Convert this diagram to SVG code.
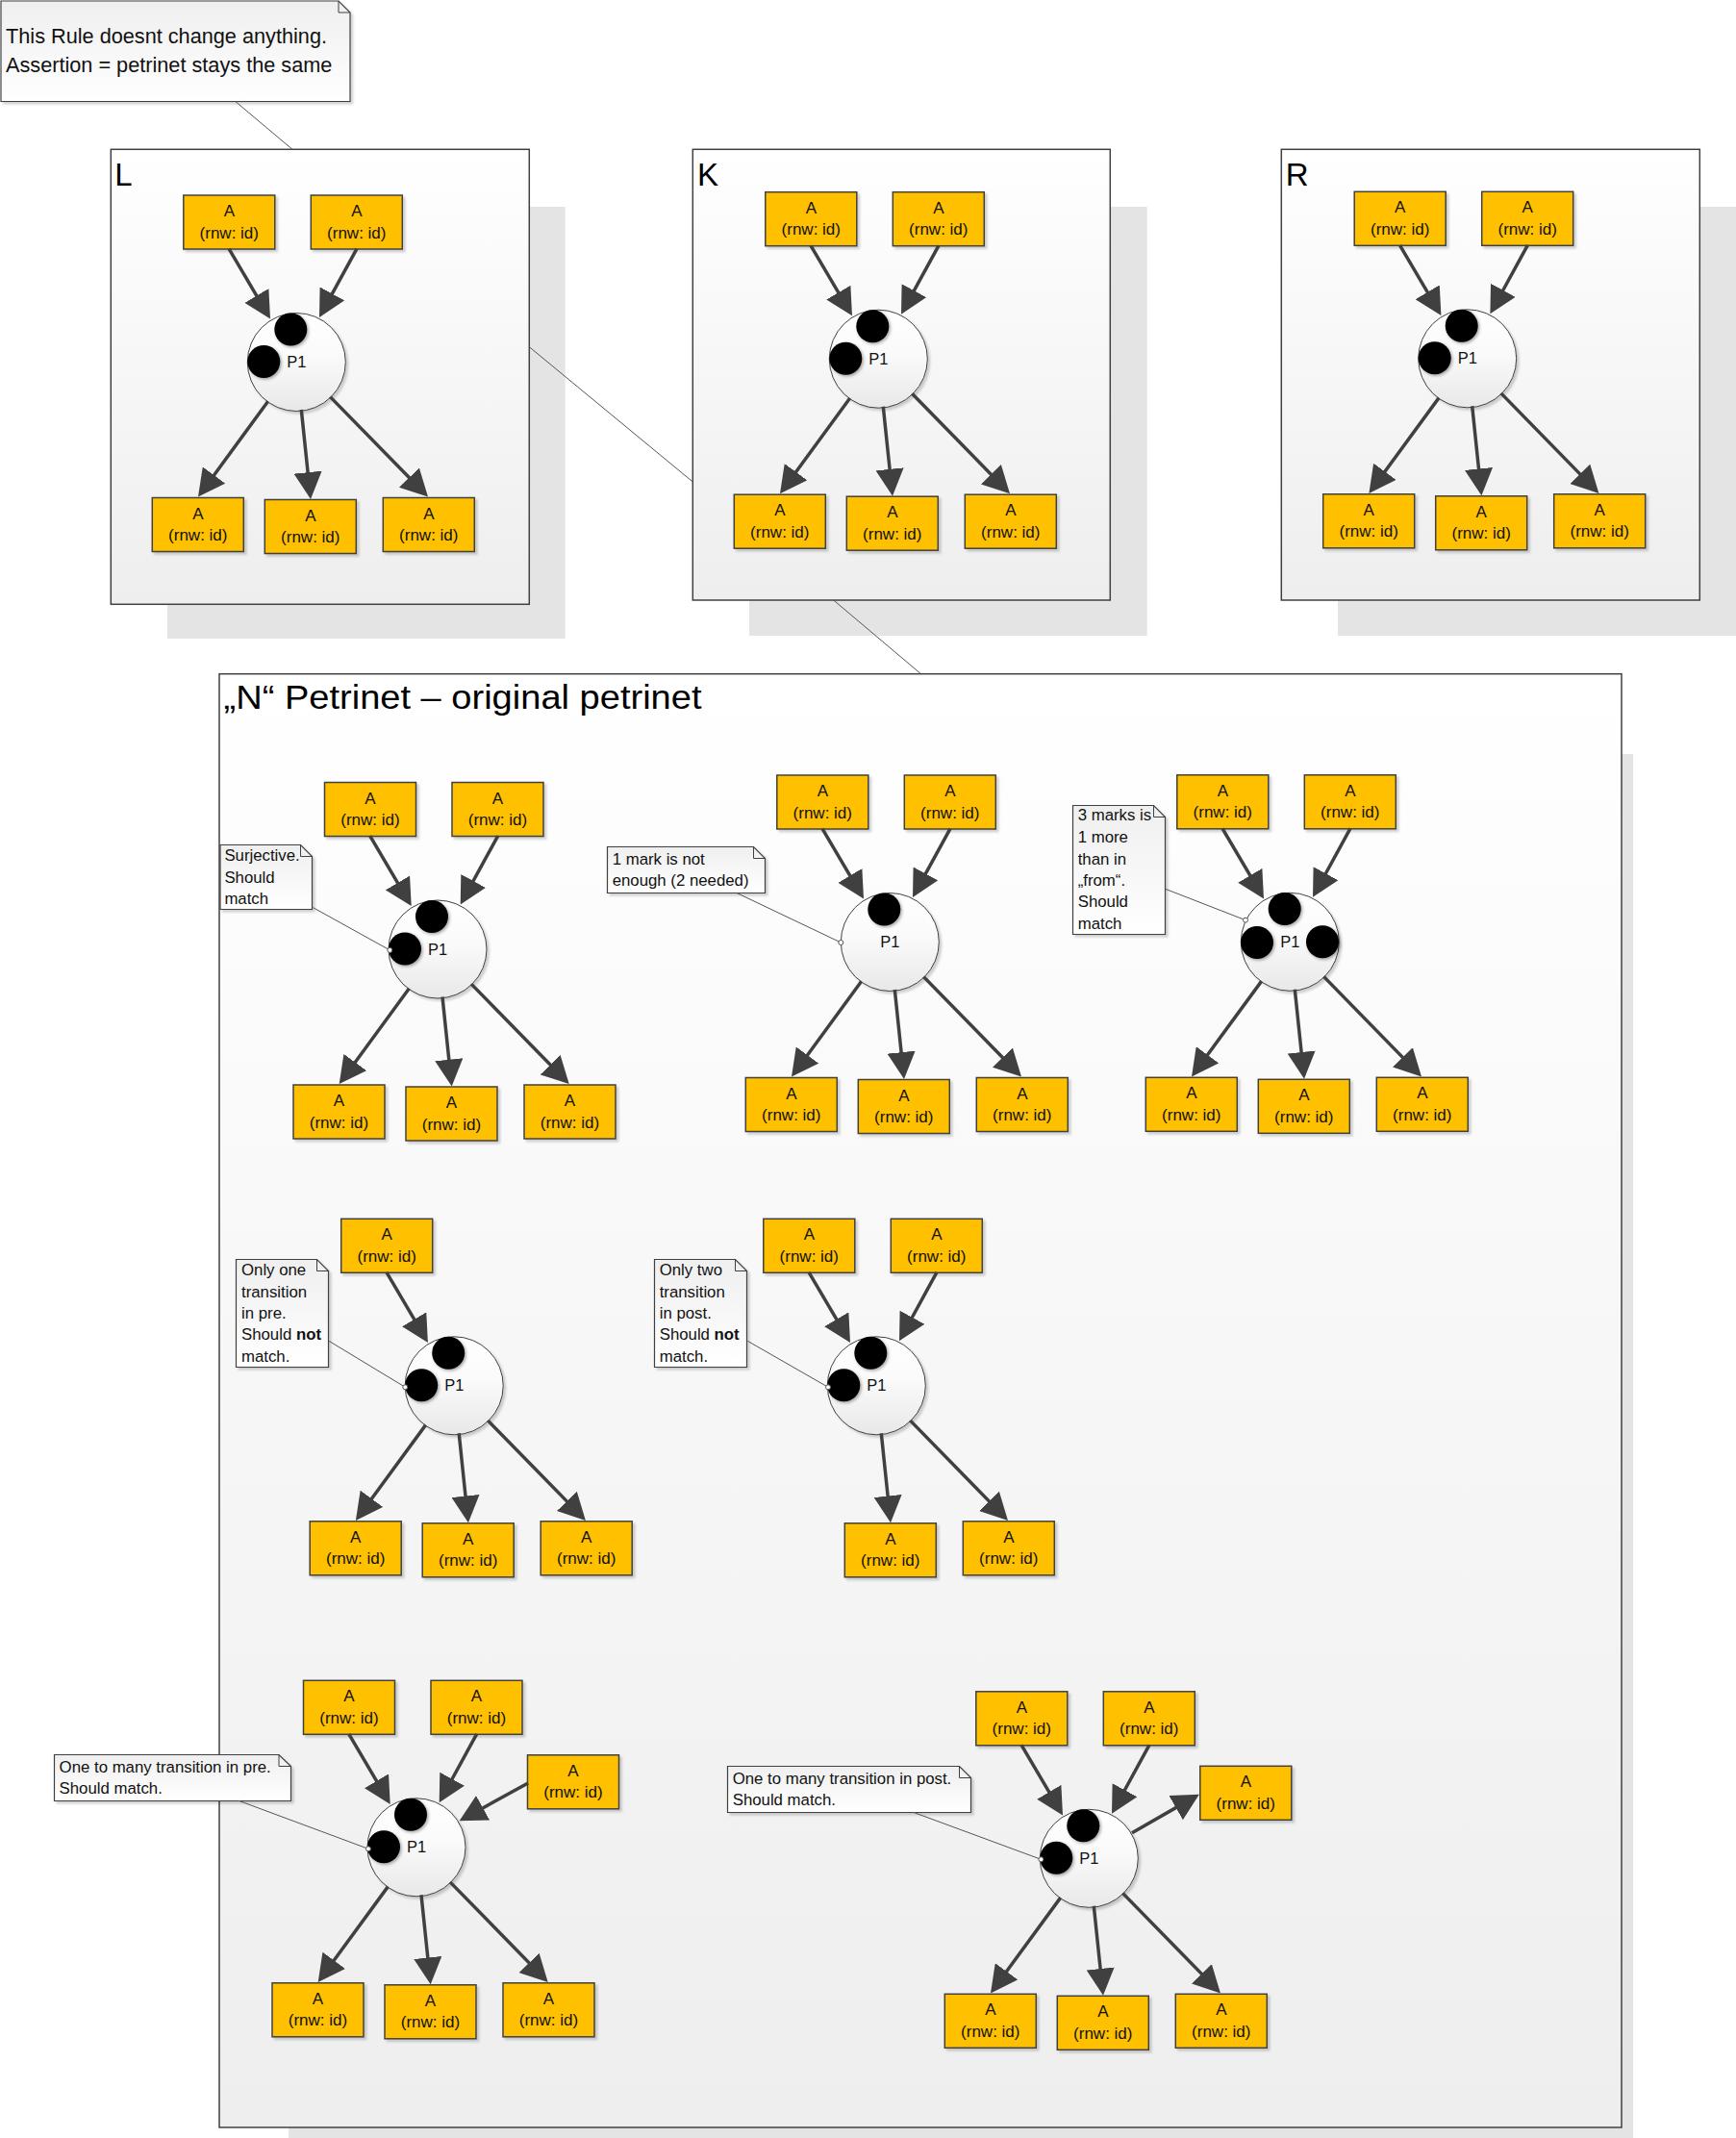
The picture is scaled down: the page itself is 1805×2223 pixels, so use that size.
<svg xmlns="http://www.w3.org/2000/svg" width="1805" height="2223" viewBox="0 0 1805 2223">
  <defs>
    <linearGradient id="gFrame" x1="0" y1="0" x2="0" y2="1">
      <stop offset="0" stop-color="#ffffff"/>
      <stop offset="1" stop-color="#eeeeee"/>
    </linearGradient>
    <linearGradient id="gPlace" x1="0" y1="0" x2="0" y2="1">
      <stop offset="0" stop-color="#ffffff"/>
      <stop offset="0.45" stop-color="#fafafa"/>
      <stop offset="1" stop-color="#e8e8e8"/>
    </linearGradient>
    <linearGradient id="gNote" x1="0" y1="0" x2="0" y2="1">
      <stop offset="0" stop-color="#efefef"/>
      <stop offset="1" stop-color="#ffffff"/>
    </linearGradient>
    <filter id="sh" x="-20%" y="-20%" width="150%" height="150%">
      <feDropShadow dx="2.5" dy="2.5" stdDeviation="1" flood-color="#000" flood-opacity="0.18"/>
    </filter>
    <filter id="tsh" x="-30%" y="-30%" width="170%" height="170%">
      <feDropShadow dx="1.5" dy="1.5" stdDeviation="1.5" flood-color="#000" flood-opacity="0.35"/>
    </filter>
    <marker id="head" viewBox="0 0 28 29.2" refX="8" refY="14.6" markerUnits="userSpaceOnUse" markerWidth="28" markerHeight="29.2" orient="auto">
      <path d="M0,0 L28,14.6 L0,29.2 Z" fill="#404040"/>
    </marker>
    <style>
      text { font-family: 'Liberation Sans', Arial, sans-serif; fill: #000; }
      .shadow { fill: #e4e4e4; }
      .frame { fill: url(#gFrame); stroke: #404040; stroke-width: 1.5; }
      .box { fill: #ffc000; stroke: #404040; stroke-width: 1.5; filter: url(#sh); }
      .place { fill: url(#gPlace); stroke: #404040; stroke-width: 1; filter: url(#sh); }
      .token { fill: #000; filter: url(#tsh); }
      .note { fill: url(#gNote); stroke: #404040; stroke-width: 1.2; filter: url(#sh); }
      .fold { fill: none; stroke: #404040; stroke-width: 1; }
      .arc { stroke: #404040; stroke-width: 3.5; fill: none; marker-end: url(#head); }
      .link { stroke: #555555; stroke-width: 1; fill: none; }
      .pin { fill: #ffffff; stroke: #555555; stroke-width: 1; }
      .bt { font-size: 17px; text-anchor: middle; fill: #111; }
      .pt { font-size: 16.5px; fill: #111; }
      .nt { font-size: 16.8px; fill: #111; }
      .lbl { font-size: 33px; }
      .ttl { font-size: 35px; }
      .big { font-size: 21.7px; fill: #111; }
    </style>
  </defs>

  <!-- rule panels: shadows and frames -->
  <g id="panels">
    <rect class="shadow" x="174" y="215" width="413.7" height="449"/>
    <rect class="shadow" x="779" y="215" width="413.7" height="446"/>
    <rect class="shadow" x="1391" y="215" width="414" height="446"/>
    <rect class="shadow" x="300" y="784" width="1398" height="1439"/>
    <g id="frame-L">
      <rect class="frame" x="115.3" y="155.3" width="435" height="473"/>
      <text class="lbl" x="119.3" y="193.3">L</text>
    </g>
    <g id="frame-K">
      <rect class="frame" x="720.3" y="155.3" width="434" height="468.7"/>
      <text class="lbl" x="725" y="192.7">K</text>
    </g>
    <g id="frame-R">
      <rect class="frame" x="1332.3" y="155.3" width="435" height="468.7"/>
      <text class="lbl" x="1336.7" y="192.7">R</text>
    </g>
    <g id="frame-N">
      <rect class="frame" x="228" y="700.7" width="1458" height="1511.3"/>
      <text class="ttl" x="232.5" y="737" textLength="497" lengthAdjust="spacingAndGlyphs">„N“ Petrinet – original petrinet</text>
    </g>
  </g>

  <!-- comment notes -->
  <g id="notes">
    <g id="note-rule">
      <path class="note" d="M1,1 H352 L364,13 V105.5 H1 Z"/>
      <path class="fold" d="M352,1 V13 H364"/>
      <text class="big" x="6" y="44.8">This Rule doesnt change anything.</text>
      <text class="big" x="6" y="74.6">Assertion = petrinet stays the same</text>
    </g>
    <g id="note-N1">
      <path class="note" d="M229,878.5 H312.5 L324.5,890.5 V945.5 H229 Z"/>
      <path class="fold" d="M312.5,878.5 V890.5 H324.5"/>
      <text class="nt" x="233.4" y="895.4">Surjective.</text>
      <text class="nt" x="233.4" y="917.5">Should</text>
      <text class="nt" x="233.4" y="939.6">match</text>
    </g>
    <g id="note-N2">
      <path class="note" d="M631.5,880.5 H783.5 L795.5,892.5 V928.5 H631.5 Z"/>
      <path class="fold" d="M783.5,880.5 V892.5 H795.5"/>
      <text class="nt" x="636.7" y="899">1 mark is not</text>
      <text class="nt" x="636.7" y="921">enough (2 needed)</text>
    </g>
    <g id="note-N3">
      <path class="note" d="M1115.5,837.5 H1199.5 L1211.5,849.5 V971.5 H1115.5 Z"/>
      <path class="fold" d="M1199.5,837.5 V849.5 H1211.5"/>
      <text class="nt" x="1120.7" y="853.3">3 marks is</text>
      <text class="nt" x="1120.7" y="876">1 more</text>
      <text class="nt" x="1120.7" y="898.7">than in</text>
      <text class="nt" x="1120.7" y="920.7">„from“.</text>
      <text class="nt" x="1120.7" y="943.3">Should</text>
      <text class="nt" x="1120.7" y="965.7">match</text>
    </g>
    <g id="note-N4">
      <path class="note" d="M245.5,1309.5 H329.5 L341.5,1321.5 V1421.5 H245.5 Z"/>
      <path class="fold" d="M329.5,1309.5 V1321.5 H341.5"/>
      <text class="nt" x="251" y="1326">Only one</text>
      <text class="nt" x="251" y="1348.7">transition</text>
      <text class="nt" x="251" y="1370.7">in pre.</text>
      <text class="nt" x="251" y="1393.3">Should <tspan font-weight="bold">not</tspan></text>
      <text class="nt" x="251" y="1415.7">match.</text>
    </g>
    <g id="note-N5">
      <path class="note" d="M680.5,1309.5 H764.5 L776.5,1321.5 V1421.5 H680.5 Z"/>
      <path class="fold" d="M764.5,1309.5 V1321.5 H776.5"/>
      <text class="nt" x="685.7" y="1326">Only two</text>
      <text class="nt" x="685.7" y="1348.7">transition</text>
      <text class="nt" x="685.7" y="1370.7">in post.</text>
      <text class="nt" x="685.7" y="1393.3">Should <tspan font-weight="bold">not</tspan></text>
      <text class="nt" x="685.7" y="1415.7">match.</text>
    </g>
    <g id="note-N6">
      <path class="note" d="M56.5,1824.5 H290 L302.5,1836.5 V1872.5 H56.5 Z"/>
      <path class="fold" d="M290,1824.5 V1836.5 H302.5"/>
      <text class="nt" x="61.6" y="1843.3">One to many transition in pre.</text>
      <text class="nt" x="61.6" y="1865">Should match.</text>
    </g>
    <g id="note-N7">
      <path class="note" d="M756.5,1836.5 H997.5 L1009.5,1848.5 V1884.5 H756.5 Z"/>
      <path class="fold" d="M997.5,1836.5 V1848.5 H1009.5"/>
      <text class="nt" x="761.7" y="1855">One to many transition in post.</text>
      <text class="nt" x="761.7" y="1876.7">Should match.</text>
    </g>
  </g>

  <!-- petri nets: each group is placed at the centre of its place P1 -->
  <g id="nodes">
    <g id="net-L" transform="translate(308.3,376.5)">
      <g id="L-p1"><circle class="place" r="51"/><circle class="token" cx="-6" cy="-34" r="17"/><circle class="token" cx="-34" cy="-0.5" r="17"/><text class="pt" x="-10" y="5.5">P1</text></g>
      <g id="L-t1"><rect class="box" x="-117.5" y="-173.5" width="95" height="56"/><text class="bt" x="-70" y="-151.5">A</text><text class="bt" x="-70" y="-129">(rnw: id)</text></g>
      <g id="L-t2"><rect class="box" x="15" y="-173.5" width="95" height="56"/><text class="bt" x="62.5" y="-151.5">A</text><text class="bt" x="62.5" y="-129">(rnw: id)</text></g>
      <g id="L-b1"><rect class="box" x="-150" y="141" width="95" height="56"/><text class="bt" x="-102.5" y="163">A</text><text class="bt" x="-102.5" y="185.5">(rnw: id)</text></g>
      <g id="L-b2"><rect class="box" x="-33" y="143" width="95" height="56"/><text class="bt" x="14.5" y="165">A</text><text class="bt" x="14.5" y="187.5">(rnw: id)</text></g>
      <g id="L-b3"><rect class="box" x="90" y="141" width="95" height="56"/><text class="bt" x="137.5" y="163">A</text><text class="bt" x="137.5" y="185.5">(rnw: id)</text></g>
    </g>
    <g id="net-K" transform="translate(913.3,373.2)">
      <g id="K-p1"><circle class="place" r="51"/><circle class="token" cx="-6" cy="-34" r="17"/><circle class="token" cx="-34" cy="-0.5" r="17"/><text class="pt" x="-10" y="5.5">P1</text></g>
      <g id="K-t1"><rect class="box" x="-117.5" y="-173.5" width="95" height="56"/><text class="bt" x="-70" y="-151.5">A</text><text class="bt" x="-70" y="-129">(rnw: id)</text></g>
      <g id="K-t2"><rect class="box" x="15" y="-173.5" width="95" height="56"/><text class="bt" x="62.5" y="-151.5">A</text><text class="bt" x="62.5" y="-129">(rnw: id)</text></g>
      <g id="K-b1"><rect class="box" x="-150" y="141" width="95" height="56"/><text class="bt" x="-102.5" y="163">A</text><text class="bt" x="-102.5" y="185.5">(rnw: id)</text></g>
      <g id="K-b2"><rect class="box" x="-33" y="143" width="95" height="56"/><text class="bt" x="14.5" y="165">A</text><text class="bt" x="14.5" y="187.5">(rnw: id)</text></g>
      <g id="K-b3"><rect class="box" x="90" y="141" width="95" height="56"/><text class="bt" x="137.5" y="163">A</text><text class="bt" x="137.5" y="185.5">(rnw: id)</text></g>
    </g>
    <g id="net-R" transform="translate(1525.7,372.8)">
      <g id="R-p1"><circle class="place" r="51"/><circle class="token" cx="-6" cy="-34" r="17"/><circle class="token" cx="-34" cy="-0.5" r="17"/><text class="pt" x="-10" y="5.5">P1</text></g>
      <g id="R-t1"><rect class="box" x="-117.5" y="-173.5" width="95" height="56"/><text class="bt" x="-70" y="-151.5">A</text><text class="bt" x="-70" y="-129">(rnw: id)</text></g>
      <g id="R-t2"><rect class="box" x="15" y="-173.5" width="95" height="56"/><text class="bt" x="62.5" y="-151.5">A</text><text class="bt" x="62.5" y="-129">(rnw: id)</text></g>
      <g id="R-b1"><rect class="box" x="-150" y="141" width="95" height="56"/><text class="bt" x="-102.5" y="163">A</text><text class="bt" x="-102.5" y="185.5">(rnw: id)</text></g>
      <g id="R-b2"><rect class="box" x="-33" y="143" width="95" height="56"/><text class="bt" x="14.5" y="165">A</text><text class="bt" x="14.5" y="187.5">(rnw: id)</text></g>
      <g id="R-b3"><rect class="box" x="90" y="141" width="95" height="56"/><text class="bt" x="137.5" y="163">A</text><text class="bt" x="137.5" y="185.5">(rnw: id)</text></g>
    </g>
    <g id="net-N1" transform="translate(455,987)">
      <g id="N1-p1"><circle class="place" r="51"/><circle class="token" cx="-6" cy="-34" r="17"/><circle class="token" cx="-34" cy="-0.5" r="17"/><text class="pt" x="-10" y="5.5">P1</text></g>
      <g id="N1-t1"><rect class="box" x="-117.5" y="-173.5" width="95" height="56"/><text class="bt" x="-70" y="-151.5">A</text><text class="bt" x="-70" y="-129">(rnw: id)</text></g>
      <g id="N1-t2"><rect class="box" x="15" y="-173.5" width="95" height="56"/><text class="bt" x="62.5" y="-151.5">A</text><text class="bt" x="62.5" y="-129">(rnw: id)</text></g>
      <g id="N1-b1"><rect class="box" x="-150" y="141" width="95" height="56"/><text class="bt" x="-102.5" y="163">A</text><text class="bt" x="-102.5" y="185.5">(rnw: id)</text></g>
      <g id="N1-b2"><rect class="box" x="-33" y="143" width="95" height="56"/><text class="bt" x="14.5" y="165">A</text><text class="bt" x="14.5" y="187.5">(rnw: id)</text></g>
      <g id="N1-b3"><rect class="box" x="90" y="141" width="95" height="56"/><text class="bt" x="137.5" y="163">A</text><text class="bt" x="137.5" y="185.5">(rnw: id)</text></g>
    </g>
    <g id="net-N2" transform="translate(925.3,979.5)">
      <g id="N2-p1"><circle class="place" r="51"/><circle class="token" cx="-6" cy="-34" r="17"/><text class="pt" x="-10" y="5.5">P1</text></g>
      <g id="N2-t1"><rect class="box" x="-117.5" y="-173.5" width="95" height="56"/><text class="bt" x="-70" y="-151.5">A</text><text class="bt" x="-70" y="-129">(rnw: id)</text></g>
      <g id="N2-t2"><rect class="box" x="15" y="-173.5" width="95" height="56"/><text class="bt" x="62.5" y="-151.5">A</text><text class="bt" x="62.5" y="-129">(rnw: id)</text></g>
      <g id="N2-b1"><rect class="box" x="-150" y="141" width="95" height="56"/><text class="bt" x="-102.5" y="163">A</text><text class="bt" x="-102.5" y="185.5">(rnw: id)</text></g>
      <g id="N2-b2"><rect class="box" x="-33" y="143" width="95" height="56"/><text class="bt" x="14.5" y="165">A</text><text class="bt" x="14.5" y="187.5">(rnw: id)</text></g>
      <g id="N2-b3"><rect class="box" x="90" y="141" width="95" height="56"/><text class="bt" x="137.5" y="163">A</text><text class="bt" x="137.5" y="185.5">(rnw: id)</text></g>
    </g>
    <g id="net-N3" transform="translate(1341.3,979.3)">
      <g id="N3-p1"><circle class="place" r="51"/><circle class="token" cx="-5.6" cy="-34.3" r="17"/><circle class="token" cx="-34.3" cy="0.7" r="17"/><circle class="token" cx="33.7" cy="0" r="17"/><text class="pt" x="-10" y="5.7">P1</text></g>
      <g id="N3-t1"><rect class="box" x="-117.5" y="-173.5" width="95" height="56"/><text class="bt" x="-70" y="-151.5">A</text><text class="bt" x="-70" y="-129">(rnw: id)</text></g>
      <g id="N3-t2"><rect class="box" x="15" y="-173.5" width="95" height="56"/><text class="bt" x="62.5" y="-151.5">A</text><text class="bt" x="62.5" y="-129">(rnw: id)</text></g>
      <g id="N3-b1"><rect class="box" x="-150" y="141" width="95" height="56"/><text class="bt" x="-102.5" y="163">A</text><text class="bt" x="-102.5" y="185.5">(rnw: id)</text></g>
      <g id="N3-b2"><rect class="box" x="-33" y="143" width="95" height="56"/><text class="bt" x="14.5" y="165">A</text><text class="bt" x="14.5" y="187.5">(rnw: id)</text></g>
      <g id="N3-b3"><rect class="box" x="90" y="141" width="95" height="56"/><text class="bt" x="137.5" y="163">A</text><text class="bt" x="137.5" y="185.5">(rnw: id)</text></g>
    </g>
    <g id="net-N4" transform="translate(472.2,1440.8)">
      <g id="N4-p1"><circle class="place" r="51"/><circle class="token" cx="-6" cy="-34" r="17"/><circle class="token" cx="-34" cy="-0.5" r="17"/><text class="pt" x="-10" y="5.5">P1</text></g>
      <g id="N4-t1"><rect class="box" x="-117.5" y="-173.5" width="95" height="56"/><text class="bt" x="-70" y="-151.5">A</text><text class="bt" x="-70" y="-129">(rnw: id)</text></g>
      <g id="N4-b1"><rect class="box" x="-150" y="141" width="95" height="56"/><text class="bt" x="-102.5" y="163">A</text><text class="bt" x="-102.5" y="185.5">(rnw: id)</text></g>
      <g id="N4-b2"><rect class="box" x="-33" y="143" width="95" height="56"/><text class="bt" x="14.5" y="165">A</text><text class="bt" x="14.5" y="187.5">(rnw: id)</text></g>
      <g id="N4-b3"><rect class="box" x="90" y="141" width="95" height="56"/><text class="bt" x="137.5" y="163">A</text><text class="bt" x="137.5" y="185.5">(rnw: id)</text></g>
    </g>
    <g id="net-N5" transform="translate(911.3,1440.8)">
      <g id="N5-p1"><circle class="place" r="51"/><circle class="token" cx="-6" cy="-34" r="17"/><circle class="token" cx="-34" cy="-0.5" r="17"/><text class="pt" x="-10" y="5.5">P1</text></g>
      <g id="N5-t1"><rect class="box" x="-117.5" y="-173.5" width="95" height="56"/><text class="bt" x="-70" y="-151.5">A</text><text class="bt" x="-70" y="-129">(rnw: id)</text></g>
      <g id="N5-t2"><rect class="box" x="15" y="-173.5" width="95" height="56"/><text class="bt" x="62.5" y="-151.5">A</text><text class="bt" x="62.5" y="-129">(rnw: id)</text></g>
      <g id="N5-b2"><rect class="box" x="-33" y="143" width="95" height="56"/><text class="bt" x="14.5" y="165">A</text><text class="bt" x="14.5" y="187.5">(rnw: id)</text></g>
      <g id="N5-b3"><rect class="box" x="90" y="141" width="95" height="56"/><text class="bt" x="137.5" y="163">A</text><text class="bt" x="137.5" y="185.5">(rnw: id)</text></g>
    </g>
    <g id="net-N6" transform="translate(433,1920.8)">
      <g id="N6-p1"><circle class="place" r="51"/><circle class="token" cx="-6" cy="-34" r="17"/><circle class="token" cx="-34" cy="-0.5" r="17"/><text class="pt" x="-10" y="5.5">P1</text></g>
      <g id="N6-t1"><rect class="box" x="-117.5" y="-173.5" width="95" height="56"/><text class="bt" x="-70" y="-151.5">A</text><text class="bt" x="-70" y="-129">(rnw: id)</text></g>
      <g id="N6-t2"><rect class="box" x="15" y="-173.5" width="95" height="56"/><text class="bt" x="62.5" y="-151.5">A</text><text class="bt" x="62.5" y="-129">(rnw: id)</text></g>
      <g id="N6-t3"><rect class="box" x="115.5" y="-96" width="95" height="56"/><text class="bt" x="163" y="-74">A</text><text class="bt" x="163" y="-51.5">(rnw: id)</text></g>
      <g id="N6-b1"><rect class="box" x="-150" y="141" width="95" height="56"/><text class="bt" x="-102.5" y="163">A</text><text class="bt" x="-102.5" y="185.5">(rnw: id)</text></g>
      <g id="N6-b2"><rect class="box" x="-33" y="143" width="95" height="56"/><text class="bt" x="14.5" y="165">A</text><text class="bt" x="14.5" y="187.5">(rnw: id)</text></g>
      <g id="N6-b3"><rect class="box" x="90" y="141" width="95" height="56"/><text class="bt" x="137.5" y="163">A</text><text class="bt" x="137.5" y="185.5">(rnw: id)</text></g>
    </g>
    <g id="net-N7" transform="translate(1132.3,1932.3)">
      <g id="N7-p1"><circle class="place" r="51"/><circle class="token" cx="-6" cy="-34" r="17"/><circle class="token" cx="-34" cy="-0.5" r="17"/><text class="pt" x="-10" y="5.5">P1</text></g>
      <g id="N7-t1"><rect class="box" x="-117.5" y="-173.5" width="95" height="56"/><text class="bt" x="-70" y="-151.5">A</text><text class="bt" x="-70" y="-129">(rnw: id)</text></g>
      <g id="N7-t2"><rect class="box" x="15" y="-173.5" width="95" height="56"/><text class="bt" x="62.5" y="-151.5">A</text><text class="bt" x="62.5" y="-129">(rnw: id)</text></g>
      <g id="N7-b4"><rect class="box" x="115.5" y="-96" width="95" height="56"/><text class="bt" x="163" y="-74">A</text><text class="bt" x="163" y="-51.5">(rnw: id)</text></g>
      <g id="N7-b1"><rect class="box" x="-150" y="141" width="95" height="56"/><text class="bt" x="-102.5" y="163">A</text><text class="bt" x="-102.5" y="185.5">(rnw: id)</text></g>
      <g id="N7-b2"><rect class="box" x="-33" y="143" width="95" height="56"/><text class="bt" x="14.5" y="165">A</text><text class="bt" x="14.5" y="187.5">(rnw: id)</text></g>
      <g id="N7-b3"><rect class="box" x="90" y="141" width="95" height="56"/><text class="bt" x="137.5" y="163">A</text><text class="bt" x="137.5" y="185.5">(rnw: id)</text></g>
    </g>
  </g>

  <!-- connectors: panel links, note anchors and arcs -->
  <g id="connectors">
    <line class="link" x1="245" y1="105.7" x2="304" y2="155.3"/>
    <line class="link" x1="550.3" y1="360.7" x2="720.3" y2="501"/>
    <line class="link" x1="866.7" y1="624" x2="957.5" y2="700.7"/>

    <line class="link" x1="325.4" y1="943.6" x2="405.3" y2="987.9"/><circle class="pin" cx="405.3" cy="987.9" r="2.5"/>
    <line class="link" x1="765.7" y1="928.3" x2="874.3" y2="980"/><circle class="pin" cx="874.3" cy="980" r="2.5"/>
    <line class="link" x1="1211.7" y1="924.3" x2="1295" y2="956.7"/><circle class="pin" cx="1295" cy="956.7" r="2.5"/>
    <line class="link" x1="342" y1="1394.3" x2="421.3" y2="1442.3"/><circle class="pin" cx="421.3" cy="1442.3" r="2.5"/>
    <line class="link" x1="777.3" y1="1394.3" x2="861" y2="1442.3"/><circle class="pin" cx="861" cy="1442.3" r="2.5"/>
    <line class="link" x1="248.2" y1="1872.3" x2="382.9" y2="1922.3"/><circle class="pin" cx="382.9" cy="1922.3" r="2.5"/>
    <line class="link" x1="949.6" y1="1884.3" x2="1082.4" y2="1933.3"/><circle class="pin" cx="1082.4" cy="1933.3" r="2.5"/>

    <g id="arcs-L" transform="translate(308.3,376.5)">
      <line class="arc" x1="-70.3" y1="-117.9" x2="-37.45" y2="-62.14"/>
      <line class="arc" x1="62.7" y1="-117.9" x2="33.29" y2="-64.05"/>
      <line class="arc" x1="-29.6" y1="40.8" x2="-90.49" y2="123.96"/>
      <line class="arc" x1="5" y1="49.5" x2="12.63" y2="122.61"/>
      <line class="arc" x1="35" y1="36.1" x2="122.72" y2="125.8"/>
    </g>
    <g id="arcs-K" transform="translate(913.3,373.2)">
      <line class="arc" x1="-70.3" y1="-117.9" x2="-37.45" y2="-62.14"/>
      <line class="arc" x1="62.7" y1="-117.9" x2="33.29" y2="-64.05"/>
      <line class="arc" x1="-29.6" y1="40.8" x2="-90.49" y2="123.96"/>
      <line class="arc" x1="5" y1="49.5" x2="12.63" y2="122.61"/>
      <line class="arc" x1="35" y1="36.1" x2="122.72" y2="125.8"/>
    </g>
    <g id="arcs-R" transform="translate(1525.7,372.8)">
      <line class="arc" x1="-70.3" y1="-117.9" x2="-37.45" y2="-62.14"/>
      <line class="arc" x1="62.7" y1="-117.9" x2="33.29" y2="-64.05"/>
      <line class="arc" x1="-29.6" y1="40.8" x2="-90.49" y2="123.96"/>
      <line class="arc" x1="5" y1="49.5" x2="12.63" y2="122.61"/>
      <line class="arc" x1="35" y1="36.1" x2="122.72" y2="125.8"/>
    </g>
    <g id="arcs-N1" transform="translate(455,987)">
      <line class="arc" x1="-70.3" y1="-117.9" x2="-37.45" y2="-62.14"/>
      <line class="arc" x1="62.7" y1="-117.9" x2="33.29" y2="-64.05"/>
      <line class="arc" x1="-29.6" y1="40.8" x2="-90.49" y2="123.96"/>
      <line class="arc" x1="5" y1="49.5" x2="12.63" y2="122.61"/>
      <line class="arc" x1="35" y1="36.1" x2="122.72" y2="125.8"/>
    </g>
    <g id="arcs-N2" transform="translate(925.3,979.5)">
      <line class="arc" x1="-70.3" y1="-117.9" x2="-37.45" y2="-62.14"/>
      <line class="arc" x1="62.7" y1="-117.9" x2="33.29" y2="-64.05"/>
      <line class="arc" x1="-29.6" y1="40.8" x2="-90.49" y2="123.96"/>
      <line class="arc" x1="5" y1="49.5" x2="12.63" y2="122.61"/>
      <line class="arc" x1="35" y1="36.1" x2="122.72" y2="125.8"/>
    </g>
    <g id="arcs-N3" transform="translate(1341.3,979.3)">
      <line class="arc" x1="-70.3" y1="-117.9" x2="-37.45" y2="-62.14"/>
      <line class="arc" x1="62.7" y1="-117.9" x2="33.29" y2="-64.05"/>
      <line class="arc" x1="-29.6" y1="40.8" x2="-90.49" y2="123.96"/>
      <line class="arc" x1="5" y1="49.5" x2="12.63" y2="122.61"/>
      <line class="arc" x1="35" y1="36.1" x2="122.72" y2="125.8"/>
    </g>
    <g id="arcs-N4" transform="translate(472.2,1440.8)">
      <line class="arc" x1="-70.3" y1="-117.9" x2="-37.45" y2="-62.14"/>
      <line class="arc" x1="-29.6" y1="40.8" x2="-90.49" y2="123.96"/>
      <line class="arc" x1="5" y1="49.5" x2="12.63" y2="122.61"/>
      <line class="arc" x1="35" y1="36.1" x2="122.72" y2="125.8"/>
    </g>
    <g id="arcs-N5" transform="translate(911.3,1440.8)">
      <line class="arc" x1="-70.3" y1="-117.9" x2="-37.45" y2="-62.14"/>
      <line class="arc" x1="62.7" y1="-117.9" x2="33.29" y2="-64.05"/>
      <line class="arc" x1="5" y1="49.5" x2="12.63" y2="122.61"/>
      <line class="arc" x1="35" y1="36.1" x2="122.72" y2="125.8"/>
    </g>
    <g id="arcs-N6" transform="translate(433,1920.8)">
      <line class="arc" x1="-70.3" y1="-117.9" x2="-37.45" y2="-62.14"/>
      <line class="arc" x1="62.7" y1="-117.9" x2="33.29" y2="-64.05"/>
      <line class="arc" x1="116" y1="-66.8" x2="62.12" y2="-37.14"/>
      <line class="arc" x1="-29.6" y1="40.8" x2="-90.49" y2="123.96"/>
      <line class="arc" x1="5" y1="49.5" x2="12.63" y2="122.61"/>
      <line class="arc" x1="35" y1="36.1" x2="122.72" y2="125.8"/>
    </g>
    <g id="arcs-N7" transform="translate(1132.3,1932.3)">
      <line class="arc" x1="-70.3" y1="-117.9" x2="-37.45" y2="-62.14"/>
      <line class="arc" x1="62.7" y1="-117.9" x2="33.29" y2="-64.05"/>
      <line class="arc" x1="44.7" y1="-26.6" x2="97.24" y2="-56.67"/>
      <line class="arc" x1="-29.6" y1="40.8" x2="-90.49" y2="123.96"/>
      <line class="arc" x1="5" y1="49.5" x2="12.63" y2="122.61"/>
      <line class="arc" x1="35" y1="36.1" x2="122.72" y2="125.8"/>
    </g>
  </g>
</svg>
